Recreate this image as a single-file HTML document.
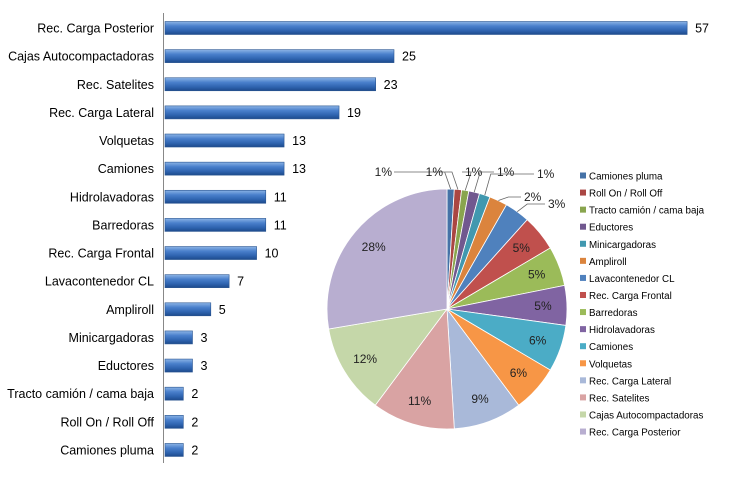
<!DOCTYPE html>
<html><head><meta charset="utf-8"><style>
html,body{margin:0;padding:0;background:#fff;}
svg{display:block;font-family:"Liberation Sans",sans-serif;}
</style></head><body>
<svg id="c" width="729" height="479" viewBox="0 0 729 479">
<defs>
<linearGradient id="bg" x1="0" y1="0" x2="0" y2="1">
<stop offset="0" stop-color="#8cb4e6"/><stop offset="0.35" stop-color="#4a80cc"/><stop offset="0.7" stop-color="#2f64b0"/><stop offset="1" stop-color="#1d4a8c"/>
</linearGradient>
</defs>
<g id="bars"></g>
<g id="pie"></g>
<g id="legend"></g>
</svg>
<script>
const categories=["Rec. Carga Posterior","Cajas Autocompactadoras","Rec. Satelites","Rec. Carga Lateral","Volquetas","Camiones","Hidrolavadoras","Barredoras","Rec. Carga Frontal","Lavacontenedor CL","Ampliroll","Minicargadoras","Eductores","Tracto camión / cama baja","Roll On / Roll Off","Camiones pluma"];
const values=[57,25,23,19,13,13,11,11,10,7,5,3,3,2,2,2];
const pieColors=["#4572a7","#aa4643","#89a54e","#71588f","#4198af","#db843d","#4f81bd","#c0504d","#9bbb59","#8064a2","#4bacc6","#f79646","#a9b9d9","#d9a3a3","#c5d7a9","#b8aed0"];
const NS="http://www.w3.org/2000/svg";
function mk(t,a,p){const e=document.createElementNS(NS,t);for(const k in a)e.setAttribute(k,a[k]);p.appendChild(e);return e;}
// bar chart
const x0=165,xs=9.16,y0=28,step=28.13,bh=13;
const bx=v=>x0+v*xs, by=i=>y0+i*step;
const bars=document.getElementById('bars');
const ax=mk('line',{x1:163.5,y1:13,x2:163.5,y2:463,stroke:'#888','stroke-width':1},bars);


categories.forEach((c,i)=>{
 const r=mk('rect',{x:x0,y:by(i)-bh/2,width:bx(values[i])-x0,height:bh,fill:'url(#bg)',stroke:'#2a5590','stroke-width':0.6},bars);
 
 
 const t=mk('text',{x:154,y:by(i)+4.5,'text-anchor':'end','font-size':12.5,fill:'#000'},bars);t.textContent=c;
 
 
 const v=mk('text',{x:bx(values[i])+8,y:by(i)+4.5,'font-size':12.5,fill:'#000'},bars);v.textContent=values[i];
 
 
});
// pie (order: reversed categories, starting at 12 o'clock clockwise)
const pieVals=values.slice().reverse(), pieCats=categories.slice().reverse();
const total=pieVals.reduce((a,b)=>a+b,0);
const cx=447,cy=309,R=120;
const pie=document.getElementById('pie');
const pt=(a,r)=>[cx+r*Math.sin(a),cy-r*Math.cos(a)];
const outsidePos=[[382,176],[433,176],[465,176],[497,176],[537,178],[524,201],[548,208]];
let a0=0;
pieVals.forEach((v,i)=>{
 const a1=a0+v/total*2*Math.PI;
 const p0=pt(a0,R),p1=pt(a1,R);
 const s=mk('path',{d:`M${cx},${cy}L${p0[0]},${p0[1]}A${R},${R} 0 ${a1-a0>Math.PI?1:0} 1 ${p1[0]},${p1[1]}Z`,fill:pieColors[i],stroke:'#fff','stroke-width':0.8},pie);
 
 
 const pct=Math.round(v/total*100)+'%';
 const am=(a0+a1)/2;
 let lx,ly;
 if(i<outsidePos.length){
  [lx,ly]=outsidePos[i];
  const e=pt(am,R);
  const tx=lx<cx?lx+12:lx-3;
  const ln=mk('polyline',{points:`${e[0]},${e[1]} ${e[0]+(i<5?(lx<cx?-6:6):10)},${ly-4} ${tx},${ly-4}`,fill:'none',stroke:'#666','stroke-width':0.8},pie);
  
  
 } else { const p=pt(am,R*0.8); lx=p[0]; ly=p[1]+4; }
 const t=mk('text',{x:lx,y:ly,'text-anchor':i<outsidePos.length?(lx<cx?'end':'start'):'middle','font-size':12,fill:'#222'},pie);
 if(i<outsidePos.length && lx<cx) t.setAttribute('x',lx+10);
 t.textContent=pct;
 
 
 a0=a1;
});
// legend
const lg=document.getElementById('legend');
pieCats.forEach((c,i)=>{
 const y=176+i*17.07;
 const r=mk('rect',{x:580,y:y-3.5,width:6,height:6,fill:pieColors[i]},lg);
 
 
 const t=mk('text',{x:589,y:y+3.5,'font-size':9.8,fill:'#000'},lg);t.textContent=c;
 
 
});
</script>
</body></html>
